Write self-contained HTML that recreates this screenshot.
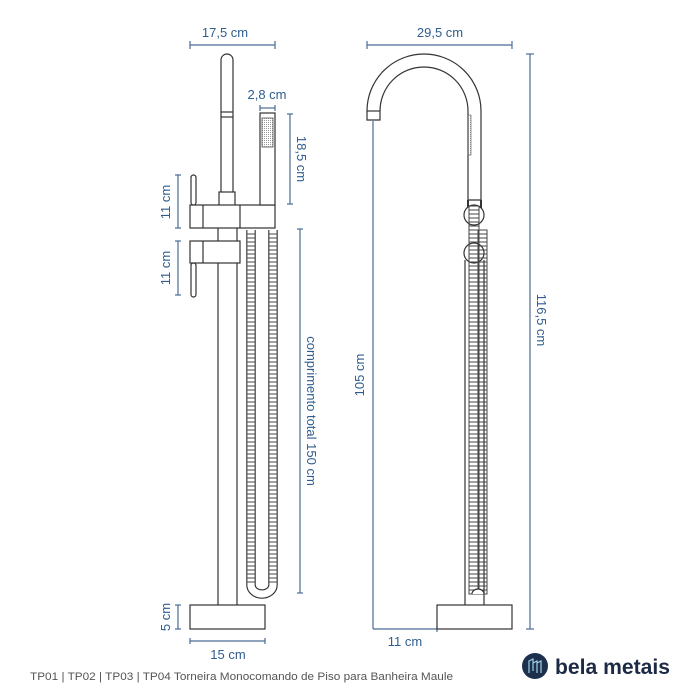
<!DOCTYPE html>
<html><head><meta charset="utf-8"><style>
html,body{margin:0;padding:0;background:#fff;width:700px;height:700px;overflow:hidden}
svg{display:block}
</style></head><body>
<svg width="700" height="700" viewBox="0 0 700 700" xmlns="http://www.w3.org/2000/svg">
<defs>
<pattern id="chain" width="8" height="4" patternUnits="userSpaceOnUse">
<line x1="0" y1="2" x2="8" y2="2" stroke="#444" stroke-width="1"/>
</pattern>
<pattern id="chain2" width="10" height="4" patternUnits="userSpaceOnUse">
<line x1="0" y1="2" x2="10" y2="2" stroke="#444" stroke-width="1"/>
</pattern>
<pattern id="dots" width="2" height="2" patternUnits="userSpaceOnUse">
<rect width="1" height="1" fill="#999"/>
</pattern>
</defs>
<g font-family="Liberation Sans, sans-serif" fill="#2f5d8e" font-size="13">
<!-- LEFT VIEW dimensions -->
<g stroke="#4a6c95" stroke-width="1.2">
<line x1="190" y1="45" x2="275" y2="45"/><line x1="190" y1="41" x2="190" y2="49"/><line x1="275" y1="41" x2="275" y2="49"/>
<line x1="260" y1="108" x2="275" y2="108"/><line x1="260" y1="105" x2="260" y2="111"/><line x1="275" y1="105" x2="275" y2="111"/>
<line x1="290" y1="114" x2="290" y2="204"/><line x1="287" y1="114" x2="293" y2="114"/><line x1="287" y1="204" x2="293" y2="204"/>
<line x1="178" y1="175" x2="178" y2="228"/><line x1="175" y1="175" x2="181" y2="175"/><line x1="175" y1="228" x2="181" y2="228"/>
<line x1="178" y1="241" x2="178" y2="295"/><line x1="175" y1="241" x2="181" y2="241"/><line x1="175" y1="295" x2="181" y2="295"/>
<line x1="300" y1="229" x2="300" y2="593"/><line x1="297" y1="229" x2="303" y2="229"/><line x1="297" y1="593" x2="303" y2="593"/>
<line x1="178" y1="605" x2="178" y2="629"/><line x1="175" y1="605" x2="181" y2="605"/><line x1="175" y1="629" x2="181" y2="629"/>
<line x1="190" y1="641" x2="265" y2="641"/><line x1="190" y1="638" x2="190" y2="644"/><line x1="265" y1="638" x2="265" y2="644"/>
<!-- right -->
<line x1="367" y1="45" x2="512" y2="45"/><line x1="367" y1="41" x2="367" y2="49"/><line x1="512" y1="41" x2="512" y2="49"/>
<line x1="373" y1="121" x2="373" y2="629"/>
<line x1="373" y1="629" x2="437" y2="629"/><line x1="437" y1="626" x2="437" y2="632"/>
<line x1="530" y1="54" x2="530" y2="629"/><line x1="526" y1="54" x2="534" y2="54"/><line x1="526" y1="629" x2="534" y2="629"/>
</g>
<text x="225" y="37" text-anchor="middle">17,5 cm</text>
<text x="267" y="99" text-anchor="middle">2,8 cm</text>
<text transform="translate(297,159) rotate(90)" text-anchor="middle">18,5 cm</text>
<text transform="translate(170,202) rotate(-90)" text-anchor="middle">11 cm</text>
<text transform="translate(170,268) rotate(-90)" text-anchor="middle">11 cm</text>
<text transform="translate(307,411) rotate(90)" text-anchor="middle">comprimento total 150 cm</text>
<text transform="translate(170,617) rotate(-90)" text-anchor="middle">5 cm</text>
<text x="228" y="659" text-anchor="middle">15 cm</text>
<text x="440" y="37" text-anchor="middle">29,5 cm</text>
<text transform="translate(364,375) rotate(-90)" text-anchor="middle">105 cm</text>
<text transform="translate(537,320) rotate(90)" text-anchor="middle">116,5 cm</text>
<text x="405" y="646" text-anchor="middle">11 cm</text>
</g>
<g fill="#fff" stroke="#333" stroke-width="1.2">
<!-- LEFT drawing -->
<line x1="218" y1="228" x2="218" y2="605"/><line x1="237" y1="228" x2="237" y2="605"/>
<path d="M221 195 V60 A6 6 0 0 1 233 60 V195 Z"/>
<line x1="221" y1="112" x2="233" y2="112"/><line x1="221" y1="117" x2="233" y2="117"/>
<rect x="219" y="192" width="16" height="14"/>
<rect x="190" y="205" width="85" height="23"/>
<line x1="203" y1="205" x2="203" y2="228"/><line x1="240" y1="205" x2="240" y2="228"/>
<rect x="191" y="175" width="5" height="30" rx="2.5"/>
<rect x="190" y="241" width="50" height="22"/>
<line x1="203" y1="241" x2="203" y2="263"/>
<rect x="191" y="263" width="5" height="34" rx="2.5"/>
<rect x="260" y="113" width="15" height="92"/>
<rect x="262" y="118" width="11" height="29" fill="url(#dots)" stroke="#555" stroke-width="0.8"/>
<!-- hose -->
<path d="M251 230 V585 A11 9 0 0 0 273 585 V230" fill="none" stroke="#333" stroke-width="9.5"/>
<path d="M251 230 V585 A11 9 0 0 0 273 585 V230" fill="none" stroke="#fff" stroke-width="7.2"/>
<rect x="247.5" y="232" width="7" height="352" fill="url(#chain)" stroke="none"/>
<rect x="269.5" y="232" width="7" height="352" fill="url(#chain)" stroke="none"/>
<rect x="190" y="605" width="75" height="24"/>
<!-- RIGHT drawing -->
<line x1="465" y1="260" x2="465" y2="605"/><line x1="484" y1="260" x2="484" y2="605"/>
<path d="M367 111 A57 57 0 0 1 481 111 V200 H468 V111 A44 44 0 0 0 380 111 V120 H367 Z"/>
<line x1="367" y1="111" x2="380" y2="111"/>
<rect x="468" y="115" width="3" height="40" fill="url(#dots)" stroke="#555" stroke-width="0.6"/>
<line x1="468" y1="200" x2="468" y2="208" stroke-width="2"/><line x1="481" y1="200" x2="481" y2="208" stroke-width="2"/>
<circle cx="474" cy="215" r="10"/>
<circle cx="474" cy="253" r="10"/>
<rect x="469" y="206" width="10" height="388" fill="url(#chain2)" stroke="#444" stroke-width="1"/>
<rect x="478" y="230" width="9" height="364" fill="url(#chain2)" stroke="#444" stroke-width="1"/>
<path d="M472 594 A6 5 0 0 1 484 594" fill="#fff"/>
<rect x="437" y="605" width="75" height="24"/>
</g>
<text x="30" y="680" font-family="Liberation Sans, sans-serif" font-size="11" fill="#555" textLength="423" lengthAdjust="spacingAndGlyphs">TP01 | TP02 | TP03 | TP04 Torneira Monocomando de Piso para Banheira Maule</text>
<circle cx="535" cy="666" r="13" fill="#1c2f4d"/>
<g stroke="#9fd0e6" stroke-width="1.2" fill="none">
<path d="M529 673 V661 L533 659 V671 M533 663 L537 661 V673 M537 663 L541 661 V673"/>
</g>
<text x="555" y="674" font-family="Liberation Sans, sans-serif" font-size="21" font-weight="bold" fill="#1c2a45" textLength="115" lengthAdjust="spacingAndGlyphs">bela metais</text>
</svg>
</body></html>
